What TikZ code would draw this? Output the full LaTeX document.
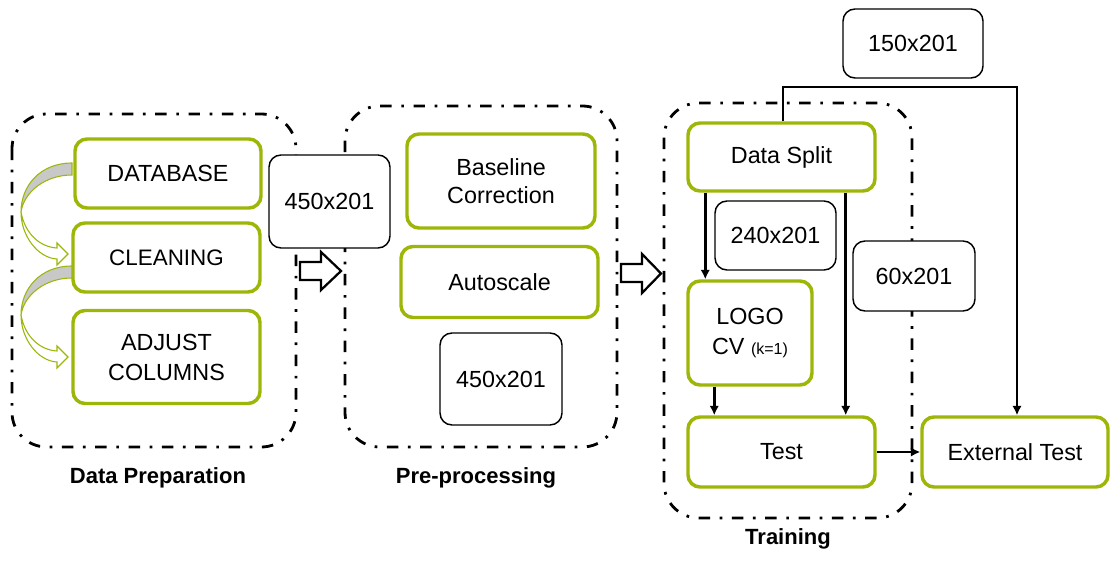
\documentclass[tikz,border=0pt]{standalone}
\usepackage{fontspec}
\setmainfont{Liberation Sans}
\usetikzlibrary{arrows.meta,calc}
\definecolor{lime}{RGB}{158,182,8}
\definecolor{arrgrey}{RGB}{200,200,200}
\begin{document}
\begin{tikzpicture}[x=0.75pt,y=-0.75pt,
  sz/.style 2 args={minimum width=#1*0.75pt, minimum height=#2*0.75pt},
  gbox/.style={draw=lime, line width=2.6pt, rounded corners=9pt, fill=white, inner sep=0pt, align=center,
    font=\fontsize{17.5}{22.5}\selectfont},
  kbox/.style={draw=black, line width=1.1pt, rounded corners=9pt, fill=white, inner sep=0pt, align=center,
    font=\fontsize{17.5}{22}\selectfont},
  grp/.style={draw=black, line width=2.1pt, rounded corners=26pt, dash pattern=on 8.6pt off 7.2pt on 2pt off 7.2pt},
  lbl/.style={font=\fontsize{16.5}{20}\selectfont\bfseries, inner sep=0pt},
  arr/.style={draw=black, line width=2.2pt, -{Latex[length=7pt,width=7pt]}},
  blk/.style={draw=black, line width=1.7pt, fill=white, line join=miter},
  carr/.style={draw=lime, line width=0.8pt}
]
\useasboundingbox (0,0) rectangle (1115,563);

% groups
\draw[grp] (12,114) rectangle (296,447);
\draw[grp] (345,106) rectangle (617,447);
\draw[grp] (664,103) rectangle (912,518);

% labels
\node[lbl] (l1) at (158,478) {Data Preparation};
\node[lbl] (l2) at (476,478) {Pre-processing};
\node[lbl] (l3) at (788,539) {Training};

% data preparation
\node[gbox, sz={186}{69}] (db) at (168,173.5) {DATABASE};
\node[gbox, sz={187}{69}, font=\fontsize{16.8}{22}\selectfont] (cl) at (166.5,257.5) {CLEANING};
\node[gbox, sz={187}{93}] (adj) at (166.5,357) {ADJUST\\COLUMNS};

% curved arrows
\foreach \dy in {0,103}{
  \begin{scope}[yshift=-\dy*0.75pt]
    \filldraw[carr, fill=arrgrey] (72,163) .. controls (40,163) and (21,186) .. (21,212)
       .. controls (24,192) and (45,175) .. (72,175) -- cycle;
    \filldraw[carr, fill=white] (21,212) .. controls (21,236) and (38,258) .. (57,259)
       -- (57,265) -- (68,254) -- (57,243) -- (57,248)
       .. controls (40,247) and (25,234) .. (21,212) -- cycle;
  \end{scope}
}

% transfer boxes
\node[kbox, sz={121}{93}] (s1) at (329.5,201.5) {450x201};
\draw[blk] (300,262) -- (321,262) -- (321,252) -- (341,271) -- (321,290) -- (321,280) -- (300,280) -- cycle;

% pre-processing
\node[gbox, sz={188}{94}, font=\fontsize{17.5}{21.5}\selectfont] (bc) at (501,181) {Baseline\\Correction};
\node[gbox, sz={197}{71}] (as) at (499.5,282) {Autoscale};
\node[kbox, sz={122}{92}] (s2) at (501,379) {450x201};

\draw[blk] (621,264) -- (642,264) -- (642,254) -- (661,273.5) -- (642,293) -- (642,282) -- (621,282) -- cycle;

% training
\coordinate (top) at (900,87);
\node[gbox, sz={187}{68}] (ds) at (781.5,157) {Data Split};
\node[kbox, sz={121}{69}] (s3) at (775.5,235.5) {240x201};
\node[kbox, sz={122}{70}] (s4) at (914,276) {60x201};
\node[gbox, sz={124}{104}] (logo) at (750,333) {LOGO\\CV {\fontsize{12}{14}\selectfont (k=1)}};
\node[gbox, sz={187}{70}] (test) at (781.5,452) {Test};
\node[gbox, sz={186}{70}] (ext) at (1015,452) {External Test};
\node[kbox, sz={140}{69}] (s5) at (913,43.5) {150x201};

% connectors
\draw[arr] ([xshift=19*0.75pt]ds.south west) -- ([xshift=19*0.75pt]ds.south west |- logo.north);
\draw[arr] ([xshift=-31*0.75pt]ds.south east) -- ([xshift=-31*0.75pt]ds.south east |- test.north);
\draw[arr] ([xshift=28*0.75pt]logo.south west) -- ([xshift=28*0.75pt]logo.south west |- test.north);
\draw[arr] (test.east) -- (ext.west);
\draw[arr] ([xshift=1.5*0.75pt]ds.north) -- ([xshift=1.5*0.75pt]ds.north |- top) -| ([xshift=2*0.75pt]ext.north);
\end{tikzpicture}
\end{document}
